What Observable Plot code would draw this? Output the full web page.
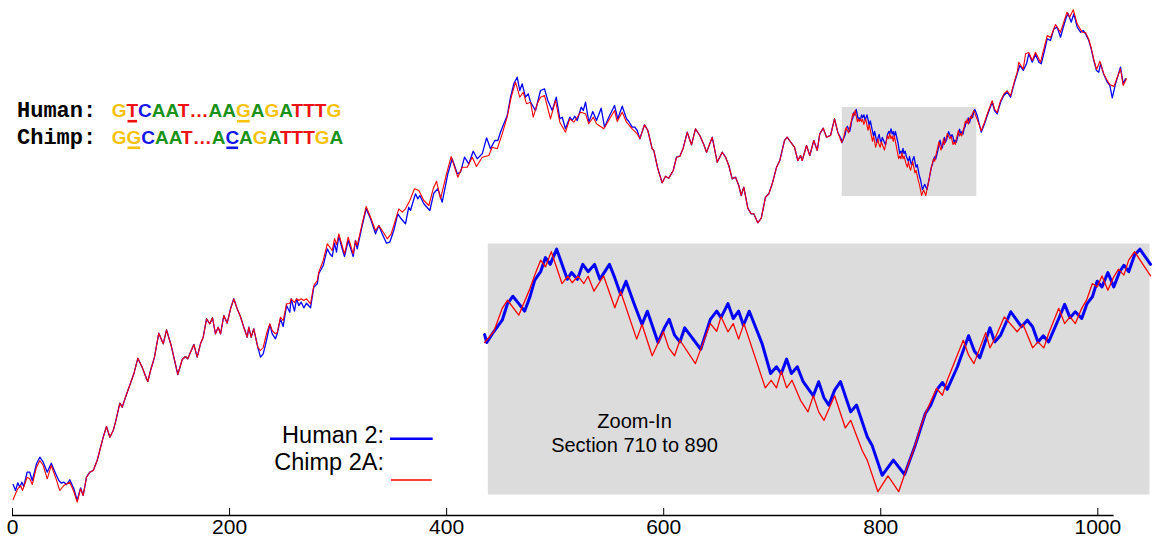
<!DOCTYPE html>
<html>
<head>
<meta charset="utf-8">
<script src="https://cdn.jsdelivr.net/npm/d3@7"></script>
<script src="https://cdn.jsdelivr.net/npm/@observablehq/plot@0.6"></script>
<style>
  html, body { margin: 0; padding: 0; background: #ffffff; }
  #figure { position: relative; width: 1156px; height: 541px; overflow: hidden; }
  #figure > svg { position: absolute; left: 0; top: 0; }
</style>
</head>
<body>
<div id="figure"></div>
<script>
// Cumulative DNA walk of human chromosome 2 vs chimpanzee chromosome 2A.
// Each pair is [position along the sequence, walk displacement].

const xTicks = [0, 200, 400, 600, 800, 1000];

const human = [
  [0.6,16],[2.8,10],[4.9,17.7],[6.7,13.3],[8.6,18.3],[10.4,14],[13.5,28.3],[15.9,28.3],[18.2,20],[22.1,36.7],
  [25.2,43.3],[28.3,38.3],[32,28.3],[35.7,37.3],[39.6,27.3],[42.7,20],[45.1,17.3],[47.3,18.3],[49.8,16],[52.8,20.7],
  [56.5,11.7],[59.6,0],[62.7,12.7],[65.1,5],[68.2,23.3],[71.2,28.3],[74.4,30],[78,40],[80.4,50],[83.6,63.3],
  [86.6,74],[89.7,63.3],[92.8,70],[94.9,78.3],[98.9,97.3],[101.1,93.3],[104.1,103.3],[108.7,117.3],[111.8,126.7],[115.5,142.3],
  [119.5,133.3],[123.5,121.7],[124.7,119],[127.2,130],[130.8,143.3],[134.8,167.3],[138.9,156.7],[141.9,170.7],[146.2,155],[152.3,126],
  [156.4,141],[159.4,144],[161.5,141.7],[164,148.3],[167.1,156],[170.2,143.3],[173.2,156.7],[175.7,163.3],[178.8,181.7],[181.8,176.7],
  [184.3,182.7],[187,166.7],[189.5,173.3],[191.7,166.7],[194.7,185],[197.8,177.3],[200.9,191.7],[203.9,201.7],[207,191.7],[210,184],
  [213.1,173.3],[216.3,163.3],[217.7,173.3],[219.9,163.3],[222.3,171.7],[226,153.3],[228.5,143.3],[231,146.7],[234,160],[237.1,176],
  [239.3,166.7],[242.3,161.7],[243.9,166.7],[246.9,181.7],[249.4,174],[252.5,195],[255.5,188.3],[256.8,201.7],[259.8,189.3],[261.7,201.7],
  [263.8,195],[266,198.3],[268.4,192.7],[270.9,197.3],[274.6,192.7],[277.6,213.3],[280.8,216.7],[282.2,226.7],[286.3,235],[290,251.7],
  [292.4,246.7],[294.6,244],[296.7,257.3],[298.5,248.3],[300.7,265],[302.9,255],[305.9,244],[309.3,260],[313.9,244],[316,260],
  [317.6,251.7],[322.2,275],[325.9,291.7],[329.9,281.7],[334.5,266.7],[337.5,275],[340.6,266.7],[344.6,257.3],[347.6,258.3],[351.3,270],
  [355,286.7],[358.1,281.7],[362.1,276.7],[365.1,293.3],[366.7,290],[371.3,306.7],[373.4,301.7],[375.3,305],[379,296.7],[384.5,290],
  [388.2,307.3],[391.9,311.7],[395.9,298.3],[401.1,326.7],[405.1,341.7],[409.8,326.7],[412.8,328.3],[416.5,343.3],[420.4,336.7],[424.5,349.3],
  [428.2,341.7],[432.8,346.7],[436.8,362.7],[440.4,351.7],[444.4,360],[447.2,360],[449.6,368.3],[453.3,378.3],[455.8,385],[458.9,403.3],
  [461.9,416.7],[465,423.3],[467.4,410],[469.6,416.7],[472.7,403.3],[475.2,406.7],[477.3,398.3],[481.9,390],[486.5,410],[490.2,411.7],
  [493.2,400],[497.3,390],[501,403.3],[504.3,381.7],[506.5,383.3],[509.5,371.7],[513.5,383.3],[515.7,380],[518.1,384.3],[520.3,380],
  [524,393.3],[525.9,390],[528,398.3],[531,378.3],[534.7,389],[538.1,380],[542.4,392.3],[545.5,373.3],[549.4,383.3],[554.7,395],
  [557.7,381.7],[561.8,394.3],[565.7,381.7],[567.9,379],[571,373.3],[573.4,373.3],[575.6,370],[578,361.7],[582.3,375.7],[585.4,370],
  [589.4,351.7],[590.9,350],[594.6,331.7],[598.6,317.7],[601.7,324.3],[604.7,322.3],[608.8,330],[611.8,343.3],[614.9,344.3],[618,352.3],
  [621.7,368.3],[625.6,355.7],[629.3,371.7],[633.3,365],[637,355.7],[639.5,348.3],[644.7,363.3],[649.3,338.3],[653.9,348.3],[657,343.3],
  [660,335],[663.1,321.7],[666.2,323.3],[669.2,315],[671.4,305],[673.8,313.3],[677.5,292.3],[680.6,286.7],[683,286.7],[686.7,277.7],
  [689.9,282.3],[693.8,303.3],[696.9,306.7],[700,316.7],[704,333.3],[707,340],[711.3,360],[713.8,363.3],[717.5,357.7],[720.5,353.3],
  [723.6,340],[726.1,345],[727.6,340],[731.6,355],[734.6,345],[738.3,360],[741.5,350],[743.8,366.7],[747,372.3],[750,363.3],
  [753.7,365],[757.4,381.7],[760.4,368.3],
  [763.9,360.7],[764.3,357.9],[765.6,361.7],[767.2,365.8],[768.2,371.7],[769.2,374.3],[770.3,371.7],[771.4,369],[772.4,374.1],[773.3,380],
  [774.4,383],[775.3,388],[776.2,385.6],[777.4,391],[779.4,380.3],[780.2,382.7],[781.3,380.3],[782.3,385.6],[783.3,383],[784.5,385.6],
  [785.5,380.3],[787.3,385.6],[788.3,380.8],[789.4,374.9],[790.4,379.6],[791.9,371.7],[793.4,364.3],[794.4,369],[796.4,357.9],[797.6,363.1],
  [798.5,366.1],[799.5,360.5],[800.5,358.1],[801.4,363.1],[804.4,355.5],[806.2,366.1],[807.4,369],[808.2,366.7],[809.5,371.7],[810.5,366.4],
  [811.5,369],[812.4,364],[813.5,369],[815.9,357.5],[817.5,346.9],[818.6,349.3],[819.5,346.9],[820.5,352],[821.4,346.9],[822.5,349.3],
  [823.6,344],[824.5,341.6],[825.5,339],[826.5,344],[827.5,338.3],[828.4,335.7],[829.5,341],[830.6,344],[832.5,333.3],[833.6,335.7],
  [835.6,324.5],[836.5,321.5],[838.4,310.8],[840.5,316.2],[842.6,311.1],[844.6,321.5],[846.5,332.7],[847.5,335.7],[848.7,341.3],[849.7,343.7],
  [850.6,341.3],[852.5,349.3],[854.6,360.3],[855.7,354.8],[856.7,352.5],[858.6,363.1],[859.5,358.1],[860.6,360.5],[862.5,368.8],[864.5,363.5],
  [865.6,365.8],[866.6,363.5],[867.6,358.1],[868.6,360.3],[869.6,358.1],[871.5,366.4],[872.6,371.4],[873.6,366.7],[874.6,368.8],[875.8,366.4],
  [876.8,371.7],[877.8,374.1],[878.7,379.6],[879.6,377.6],[880.7,382.7],[881.8,377.6],[882.9,383],[883.7,385.3],[884.6,383],[885.7,388.9],
  [886.7,391],[888.7,385.6],
  [892.6,368.3],[895.6,376.7],[898.7,386.7],[902.7,398.3],[904.8,390],[907.3,386.7],[910.4,398.3],[913.4,405],[916.5,408.3],[919.6,403.3],
  [923.3,418.3],[925.7,426.7],[928.1,435],[931.3,430],[934.3,436.7],[936.4,446.7],[939.6,438.3],[942.6,446],[945.7,438.3],[947.9,436.7],
  [950.9,450],[953.4,461.7],[956.4,460],[959.5,471.7],[962.6,473.3],[965.6,463.3],[967.8,471.7],[970.9,483.3],[972.7,486.7],[975.5,478.3],
  [977.9,486.7],[981,473.3],[984.1,468.3],[986.5,470],[988.7,466.7],[991.7,460],[993.9,451.7],[996.3,440],[998.8,430],[1000.9,428.3],
  [1002.5,436.7],[1005.5,426],[1008.7,418.3],[1011.1,415],[1013.3,402.7],[1016.3,416.7],[1020.9,433.3],[1023.4,416.7],[1025.5,421.7]
];

const chimp = [
  [0.6,1],[2.8,6.7],[4.9,11.7],[7.4,15],[9.2,10],[13.5,23.3],[15.9,21.7],[18.2,16],[22.1,33.3],[25.2,40],
  [28.3,35],[32,21.7],[35.7,35],[39.6,23.3],[43.6,10],[47.3,15],[52.8,18.3],[56.5,9],[59.6,-1.7],[62.7,11.7],
  [65.1,5],[68.2,23.3],[71.2,28.3],[74.4,30],[78,40],[80.4,50],[83.6,63.3],[86.6,74],[89.7,63.3],[92.8,70],
  [94.9,78.3],[98.9,97.3],[101.1,93.3],[104.1,103.3],[108.7,117.3],[111.8,126.7],[115.5,142.3],[119.5,133.3],[123.5,121.7],[124.7,119],
  [127.2,130],[130.8,143.3],[134.8,167.3],[138.9,156.7],[141.9,170.7],[146.2,155],[152.3,126],[156.4,141],[159.4,144],[161.5,141.7],
  [164,148.3],[167.1,156],[170.2,143.3],[173.2,156.7],[175.7,163.3],[178.8,181.7],[181.8,176.7],[184.3,182.7],[187,166.7],[189.5,173.3],
  [191.7,166.7],[194.7,185],[197.8,177.3],[200.9,191.7],[203.9,201.7],[207,191.7],[210,184],[213.1,173.3],[216.3,163.3],[217.7,173.3],
  [219.9,163.3],[222.3,171.7],[226,153.3],
  [228.5,150],[231,153],[234,166.7],[237.1,176.7],[239.3,170],[242.3,166.7],[243.9,168],[246.9,183.3],[249.4,180],[252.5,196.7],
  [255.5,197],[256.8,201.7],[259.8,198],[261.7,201.7],[263.8,200],[266,201.7],[268.4,200],[270.9,201.7],[274.6,196.7],[277.6,215],
  [280.8,220],[282.2,228.3],[286.3,240],[290,256.7],[292.4,253.3],[294.6,250],[296.7,262],[298.5,256],[300.7,266.7],[302.9,258],
  [305.9,246.7],[309.3,263.3],[313.9,246.7],[316,260],[317.6,255],[322.2,277],[325.9,294],
  [329.9,283.3],[334.5,270],[337.5,275],[340.6,270],[345.3,261.7],[348.9,266.7],[351.3,275],[355.9,291.7],[359.1,288.3],[362.1,291.7],
  [366.1,300],[370.4,311.7],[374.4,310],[379,300],[383.6,295],[387.6,311.7],[390.7,319.3],[394.4,301.7],[399.9,326.7],[404.2,344],
  [407.3,333.3],[410.3,323.3],[414.4,333.3],[419,333.3],[423.6,343.3],[427.5,334],[432.8,343.3],[438.9,345],[442,353.3],[446.6,351.7],
  [451.2,366.7],[455.8,383.3],[459.5,403.3],[463.5,418.3],[467.4,403.3],[470.6,408.3],[473.6,396.7],[477.3,398.3],[479.8,383.3],[483.5,396.7],
  [486.5,403.3],[490.2,405],[495.7,381.7],[500.3,400],[504.3,378.3],[509.5,368.3],[513.5,381.7],[517.2,378.3],[523.4,388.3],[528,386.7],
  [531,376.7],[535.1,383.3],[538.1,376.7],[544.8,371.7],[549.4,380],[554.7,390],[557.2,379],[561.8,388.3],[565.7,378.3],[571,371.7],
  [575.6,366.7],[578,361.7],[582.3,375.7],[585.4,370],[589.4,351.7],[590.9,350],[594.6,331.7],[598.6,317.7],[601.7,324.3],[604.7,322.3],
  [608.8,330],[611.8,343.3],[614.9,344.3],[618,352.3],[621.7,368.3],[625.6,355.7],[629.3,371.7],[633.3,365],[637,355.7],[639.5,348.3],
  [644.7,363.3],[649.3,338.3],[653.9,348.3],[657,343.3],[660,335],[663.1,321.7],[666.2,323.3],[669.2,315],[671.4,305],[673.8,313.3],
  [677.5,292.3],[680.6,286.7],[683,286.7],[686.7,277.7],[689.9,282.3],[693.8,303.3],[696.9,306.7],[700,316.7],[704,333.3],[707,340],
  [711.3,360],[713.8,363.3],[717.5,357.7],[720.5,353.3],[723.6,340],[726.1,345],[727.6,340],[731.6,355],[734.6,345],[738.3,360],
  [741.5,350],[743.8,366.7],[747,372.3],[750,363.3],[753.7,365],[757.4,381.7],[760.4,368.3],
  [763.9,357.9],[765.6,361.7],[767.2,370],[768.2,372.9],[770.3,367.6],[772.4,377],[773.3,381.8],[774.4,387.1],[775.3,384.7],[776.4,390.1],
  [778.4,378.8],[779.5,381.4],[780.3,379.1],[781.4,381.4],[782.5,378.8],[783.3,381.4],[784.4,376.1],[786.2,381.5],[788.3,370.2],[789.4,375.9],
  [792.4,359.1],[793.4,364.3],[795.3,353.2],[797.4,361.7],[798.4,356],[799.5,353.2],[800.5,358.7],[803.4,350.4],[806.2,364.6],[807.4,361.9],
  [808.2,367],[809.5,361.7],[810.5,364.6],[811.5,359.1],[812.5,364.6],[816.5,341.8],[817.6,344.5],[818.6,341.8],[819.5,347.7],[820.5,341.8],
  [821.5,344.5],[823.1,337.4],[824.5,333.3],[825.5,339],[826.5,333.3],[827.5,330.3],[829.5,339],[831.5,327.6],[832.5,330.3],[834.7,319.4],
  [835.6,316.2],[837.6,305],[839.5,310.6],[841.5,305],[842.6,311.1],[844.6,321.5],[845.6,328],[846.5,332.7],[848.6,341.6],[849.7,339.2],
  [850.6,344.5],[853.6,358.7],[854.6,353.4],[855.6,350.4],[857.8,361.4],[858.6,356],[859.6,359.6],[861.3,367],[863.7,361.7],[864.8,364.3],
  [866.6,356],[867.6,358.1],[868.7,356],[869.6,361.1],[871.5,370],[872.6,364.6],[873.6,367],[874.6,364.6],[875.8,370],[876.7,372.9],
  [877.8,378.8],[878.7,377.6],[879.6,381.5],[880.7,376.4],[881.8,381.2],[882.7,383.9],[883.7,381.8],[884.6,387.1],[885.7,390.1],[888.7,381.5],
  [892.6,369.8],[895.6,378.2],[898.7,388.2],[902.7,399.8],[904.8,391.5],[907.3,388.2],[910.4,399.8],[913.4,406.5],[916.5,409.8],[919.6,404.8],
  [923.3,419.8],[925.7,428.2],[927.2,438.3],[931.3,431.5],[933.4,446.7],[936.4,448],[939.6,440],[942.6,448.3],[947.2,438.3],[953.4,465],
  [956.4,463],[961,476],[965.6,468.3],[971.6,488.3],[974,483.3],[977.4,490.7],[981,476.7],[985.6,468.3],[988.7,468],[991.7,461],
  [993.9,452.5],[996.3,441],[998.8,431],[1001.9,439.3],[1005.2,427.3],[1008.7,420],[1011.1,416],[1014.8,414],[1020.9,431.7],[1023.4,415],
  [1026.4,421.7]
];

// The stretch of sequence enlarged in the inset panel
const section = {x1: 764.5, x2: 888.5, y1: 304, y2: 393};
const sectionLabel = "Zoom-In\nSection 710 to 890";

// Aligned sequence excerpt shown in the top-left corner
const humanSeq = "GTCAAT…AAGAGATTTG";
const chimpSeq = "GGCAAT…ACAGATTTGA";
const humanMarked = [1, 9];
const chimpMarked = [1, 8];
const baseColor = {G: "#f7c20a", T: "#ee1111", "…": "#ee1111", C: "#1414e8", A: "#1a921a"};

const seriesNames = ["Human 2:", "Chimp 2A:"];
const seriesColors = ["#0000ff", "#ff0000"];

const SANS = "'Liberation Sans', Arial, Helvetica, sans-serif";
const MONO = "'Courier New', 'Liberation Mono', monospace";
const figure = document.getElementById("figure");

// Main walk
const main = Plot.plot({
  width: 1156,
  height: 541,
  marginLeft: 12,
  marginRight: 42.4,
  marginTop: 0,
  marginBottom: 26,
  x: {domain: [0, 1015], label: null},
  y: {domain: [-15, 500], axis: null},
  style: {background: "transparent", fontFamily: SANS, fontSize: "21px", color: "#000", overflow: "visible"},
  marks: [
    Plot.rect([section], {x1: "x1", x2: "x2", y1: "y1", y2: "y2", fill: "#dcdcdc"}),
    Plot.line(human, {stroke: seriesColors[0], strokeWidth: 1.3}),
    Plot.line(chimp, {stroke: seriesColors[1], strokeWidth: 1.1}),
    Plot.ruleY([-15], {stroke: "#000", strokeWidth: 1.3}),
    Plot.axisX({ticks: xTicks, tickSize: -7, tickPadding: 11, tickFormat: d => String(d), fontSize: 21})
  ]
});
figure.appendChild(main);

// Inset: the same two walks restricted to the highlighted section
const inSection = d => d[0] >= section.x1 - 1 && d[0] <= section.x2 + 0.5;
const inset = Plot.plot({
  width: 1156,
  height: 541,
  marginLeft: 487.3,
  marginRight: 7,
  marginTop: 243,
  marginBottom: 47,
  x: {domain: [section.x1, section.x2], axis: null},
  y: {domain: [section.y1, section.y2], axis: null},
  style: {background: "transparent", fontFamily: SANS, overflow: "visible"},
  marks: [
    Plot.frame({fill: "#dcdcdc", stroke: "none"}),
    Plot.line(human.filter(inSection), {stroke: seriesColors[0], strokeWidth: 3}),
    Plot.line(chimp.filter(inSection), {stroke: seriesColors[1], strokeWidth: 1.3}),
    Plot.text([sectionLabel], {x: 792, y: 326, fontSize: 20, lineHeight: 1.2, fill: "#000"})
  ]
});
figure.appendChild(inset);

// Sequence excerpt and legend
const notes = d3.create("svg")
  .attr("width", 1156)
  .attr("height", 541)
  .style("overflow", "visible");
figure.appendChild(notes.node());

const rows = [
  {label: "Human:", seq: humanSeq, marked: humanMarked, baseline: 116.5, underline: 121.2},
  {label: "Chimp:", seq: chimpSeq, marked: chimpMarked, baseline: 143.5, underline: 147.8}
];
for (const row of rows) {
  const text = notes.append("text").attr("x", 17).attr("y", row.baseline);
  text.append("tspan")
    .attr("font-family", MONO).attr("font-weight", "bold").attr("font-size", 22)
    .attr("fill", "#000").text(row.label);
  [...row.seq].forEach((ch, i) => {
    const t = text.append("tspan")
      .attr("font-family", SANS).attr("font-weight", "bold").attr("font-size", 19)
      .attr("fill", baseColor[ch]).text(ch);
    if (i === 0) t.attr("x", 111.7);
  });
  const node = text.node();
  for (const i of row.marked) {
    const k = row.label.length + i;
    const x0 = node.getStartPositionOfChar(k).x;
    const x1 = node.getEndPositionOfChar(k).x;
    notes.append("rect")
      .attr("x", x0 + 1).attr("width", Math.max(0, x1 - x0 - 2))
      .attr("y", row.underline - 1.3).attr("height", 2.6)
      .attr("fill", baseColor[row.seq[i]]);
  }
}

const legendRows = [
  {baseline: 442.7, lineY: 438.7, x1: 390, x2: 432.7, width: 2.5},
  {baseline: 470, lineY: 480, x1: 391, x2: 431.7, width: 1.3}
];
legendRows.forEach((r, i) => {
  notes.append("text")
    .attr("x", 384).attr("y", r.baseline)
    .attr("text-anchor", "end")
    .attr("font-family", SANS).attr("font-size", 23.5).attr("fill", "#000")
    .text(seriesNames[i]);
  notes.append("line")
    .attr("x1", r.x1).attr("x2", r.x2).attr("y1", r.lineY).attr("y2", r.lineY)
    .attr("stroke", seriesColors[i]).attr("stroke-width", r.width);
});
</script>
</body>
</html>
